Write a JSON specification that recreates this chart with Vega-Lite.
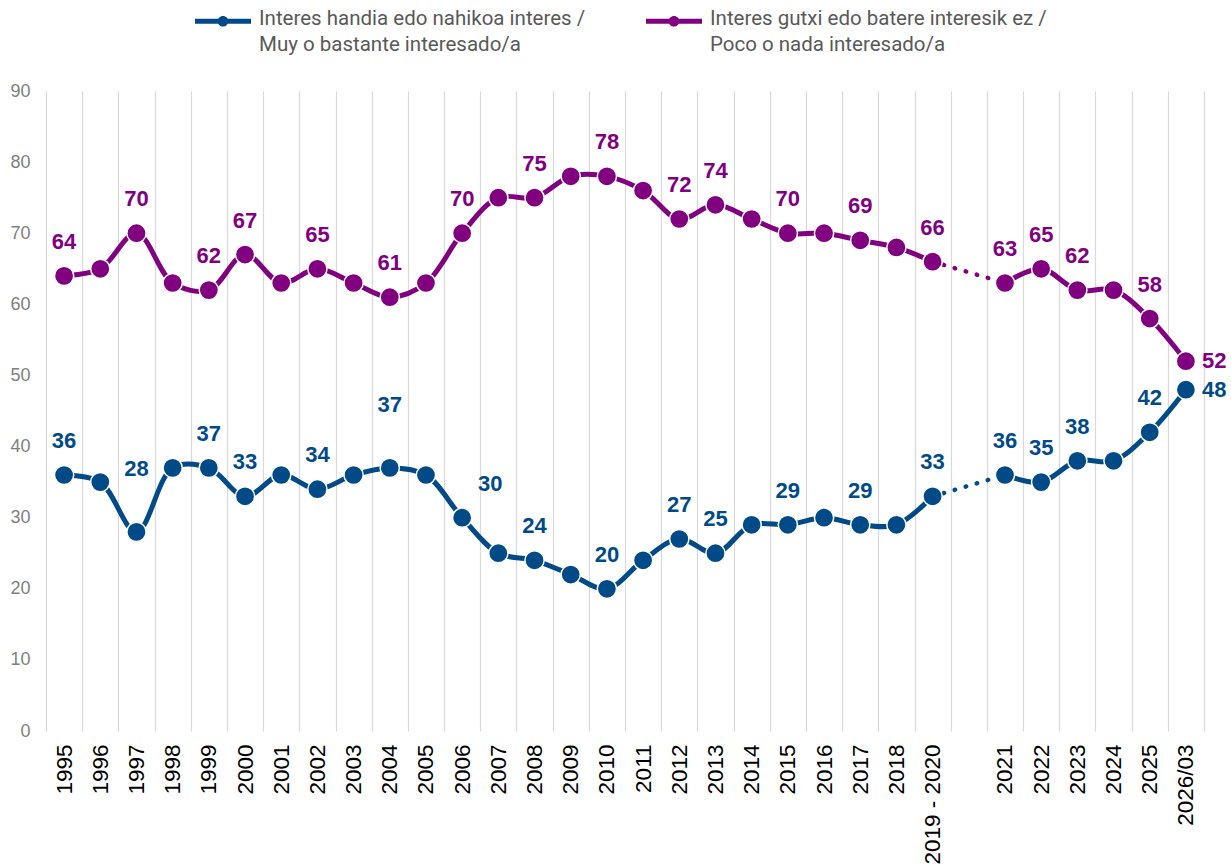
{
  "$schema": "https://vega.github.io/schema/vega-lite/v6.json",
  "autosize": {"type": "none"},
  "width": 1158,
  "height": 640,
  "padding": {"left": 46, "top": 91, "right": 27, "bottom": 137},
  "background": "white",
  "config": {"view": {"stroke": null}, "font": "Liberation Sans"},
  "data": {"values": [
    {"year": "1995", "s": "hi", "value": 36, "label": true},
    {"year": "1996", "s": "hi", "value": 35, "label": false},
    {"year": "1997", "s": "hi", "value": 28, "label": true},
    {"year": "1998", "s": "hi", "value": 37, "label": false},
    {"year": "1999", "s": "hi", "value": 37, "label": true},
    {"year": "2000", "s": "hi", "value": 33, "label": true},
    {"year": "2001", "s": "hi", "value": 36, "label": false},
    {"year": "2002", "s": "hi", "value": 34, "label": true},
    {"year": "2003", "s": "hi", "value": 36, "label": false},
    {"year": "2004", "s": "hi", "value": 37, "label": true},
    {"year": "2005", "s": "hi", "value": 36, "label": false},
    {"year": "2006", "s": "hi", "value": 30, "label": true},
    {"year": "2007", "s": "hi", "value": 25, "label": false},
    {"year": "2008", "s": "hi", "value": 24, "label": true},
    {"year": "2009", "s": "hi", "value": 22, "label": false},
    {"year": "2010", "s": "hi", "value": 20, "label": true},
    {"year": "2011", "s": "hi", "value": 24, "label": false},
    {"year": "2012", "s": "hi", "value": 27, "label": true},
    {"year": "2013", "s": "hi", "value": 25, "label": true},
    {"year": "2014", "s": "hi", "value": 29, "label": false},
    {"year": "2015", "s": "hi", "value": 29, "label": true},
    {"year": "2016", "s": "hi", "value": 30, "label": false},
    {"year": "2017", "s": "hi", "value": 29, "label": true},
    {"year": "2018", "s": "hi", "value": 29, "label": false},
    {"year": "2019 - 2020", "s": "hi", "value": 33, "label": true},
    {"year": "2021", "s": "hi", "value": 36, "label": true},
    {"year": "2022", "s": "hi", "value": 35, "label": true},
    {"year": "2023", "s": "hi", "value": 38, "label": true},
    {"year": "2024", "s": "hi", "value": 38, "label": false},
    {"year": "2025", "s": "hi", "value": 42, "label": true},
    {"year": "2026/03", "s": "hi", "value": 48, "label": true},
    {"year": "1995", "s": "lo", "value": 64, "label": true},
    {"year": "1996", "s": "lo", "value": 65, "label": false},
    {"year": "1997", "s": "lo", "value": 70, "label": true},
    {"year": "1998", "s": "lo", "value": 63, "label": false},
    {"year": "1999", "s": "lo", "value": 62, "label": true},
    {"year": "2000", "s": "lo", "value": 67, "label": true},
    {"year": "2001", "s": "lo", "value": 63, "label": false},
    {"year": "2002", "s": "lo", "value": 65, "label": true},
    {"year": "2003", "s": "lo", "value": 63, "label": false},
    {"year": "2004", "s": "lo", "value": 61, "label": true},
    {"year": "2005", "s": "lo", "value": 63, "label": false},
    {"year": "2006", "s": "lo", "value": 70, "label": true},
    {"year": "2007", "s": "lo", "value": 75, "label": false},
    {"year": "2008", "s": "lo", "value": 75, "label": true},
    {"year": "2009", "s": "lo", "value": 78, "label": false},
    {"year": "2010", "s": "lo", "value": 78, "label": true},
    {"year": "2011", "s": "lo", "value": 76, "label": false},
    {"year": "2012", "s": "lo", "value": 72, "label": true},
    {"year": "2013", "s": "lo", "value": 74, "label": true},
    {"year": "2014", "s": "lo", "value": 72, "label": false},
    {"year": "2015", "s": "lo", "value": 70, "label": true},
    {"year": "2016", "s": "lo", "value": 70, "label": false},
    {"year": "2017", "s": "lo", "value": 69, "label": true},
    {"year": "2018", "s": "lo", "value": 68, "label": false},
    {"year": "2019 - 2020", "s": "lo", "value": 66, "label": true},
    {"year": "2021", "s": "lo", "value": 63, "label": true},
    {"year": "2022", "s": "lo", "value": 65, "label": true},
    {"year": "2023", "s": "lo", "value": 62, "label": true},
    {"year": "2024", "s": "lo", "value": 62, "label": false},
    {"year": "2025", "s": "lo", "value": 58, "label": true},
    {"year": "2026/03", "s": "lo", "value": 52, "label": true}
  ]},
  "encoding": {
    "x": {
      "field": "year", "type": "ordinal",
      "scale": {"domain": ["1995","1996","1997","1998","1999","2000","2001","2002","2003","2004","2005","2006","2007","2008","2009","2010","2011","2012","2013","2014","2015","2016","2017","2018","2019 - 2020"," ","2021","2022","2023","2024","2025","2026/03"], "type": "band", "paddingInner": 0, "paddingOuter": 0},
      "axis": {"title": null, "labelAngle": 270, "labelAlign": "right", "labelBaseline": "middle", "labelFontSize": 22.5, "labelColor": "#000000", "labelPadding": 13, "ticks": false, "domain": false, "grid": true, "tickBand": "extent", "gridColor": "#d9d9d9", "gridWidth": 1.2, "labelFont": "Liberation Sans"}
    },
    "y": {
      "field": "value", "type": "quantitative",
      "scale": {"domain": [0, 90]},
      "axis": {"title": null, "values": [0,10,20,30,40,50,60,70,80,90], "grid": false, "ticks": false, "domain": false, "labelColor": "#7f7f7f", "labelFontSize": 18, "labelPadding": 16, "labelFont": "Liberation Sans"}
    },
    "color": {
      "field": "s", "type": "nominal",
      "scale": {"domain": ["hi", "lo"], "range": ["#004a87", "#800080"]},
      "legend": {
        "title": null,
        "orient": "none",
        "legendX": 149,
        "legendY": -98,
        "direction": "horizontal",
        "columns": 2,
        "columnPadding": 60,
        "symbolType": "M-1,-0.09 H1 V0.09 H-1 Z M0.19,0 A0.19,0.19 0 1,1 -0.19,0 A0.19,0.19 0 1,1 0.19,0 Z",
        "symbolSize": 3136,
        "symbolStrokeWidth": 0,
        "symbolOpacity": 1,
        "labelFontSize": 20.5,
        "labelFont": "Roboto",
        "labelColor": "#595959",
        "labelOffset": 8,
        "labelLimit": 600,
        "labelExpr": "datum.label == 'hi' ? ['Interes handia edo nahikoa interes /', 'Muy o bastante interesado/a'] : ['Interes gutxi edo batere interesik ez /', 'Poco o nada interesado/a']",
        "labelBaseline": "top",
        "encode": {"labels": {"update": {"dy": {"value": -12}, "lineHeight": {"value": 26}}}}
      }
    }
  },
  "layer": [
    {
      "transform": [{"calculate": "datum.year >= '2021' ? 'b' : 'a'", "as": "seg"}],
      "mark": {"type": "line", "strokeWidth": 5, "interpolate": "catmull-rom"},
      "encoding": {"detail": {"field": "seg"}}
    },
    {
      "transform": [{"filter": {"field": "year", "oneOf": ["2019 - 2020", "2021"]}}],
      "mark": {"type": "line", "strokeWidth": 4.5, "strokeDash": [0.5, 11], "strokeCap": "round"},
      "encoding": {}
    },
    {
      "mark": {"type": "point", "filled": true, "size": 370, "stroke": "white", "strokeWidth": 1.5, "opacity": 1},
      "encoding": {}
    },
    {
      "transform": [
        {"filter": "datum.label && datum.year != '2026/03' && !(datum.s == 'hi' && (datum.year == '1997' || datum.year == '2004' || datum.year == '2006'))"}
      ],
      "mark": {"type": "text", "fontSize": 22, "fontWeight": "bold", "dy": -34, "baseline": "middle", "align": "center", "font": "Liberation Sans"},
      "encoding": {"text": {"field": "value", "type": "quantitative"}}
    },
    {
      "transform": [{"filter": "datum.s == 'hi' && (datum.year == '1997' || datum.year == '2004')"}],
      "mark": {"type": "text", "fontSize": 22, "fontWeight": "bold", "dy": -63, "baseline": "middle", "align": "center", "font": "Liberation Sans"},
      "encoding": {"text": {"field": "value", "type": "quantitative"}}
    },
    {
      "transform": [{"filter": "datum.s == 'hi' && datum.year == '2006'"}],
      "mark": {"type": "text", "fontSize": 22, "fontWeight": "bold", "dy": -34, "dx": 28, "baseline": "middle", "align": "center", "font": "Liberation Sans"},
      "encoding": {"text": {"field": "value", "type": "quantitative"}}
    },
    {
      "transform": [{"filter": "datum.year == '2026/03'"}],
      "mark": {"type": "text", "fontSize": 22, "fontWeight": "bold", "dx": 16, "baseline": "middle", "align": "left", "font": "Liberation Sans"},
      "encoding": {"text": {"field": "value", "type": "quantitative"}}
    }
  ]
}
